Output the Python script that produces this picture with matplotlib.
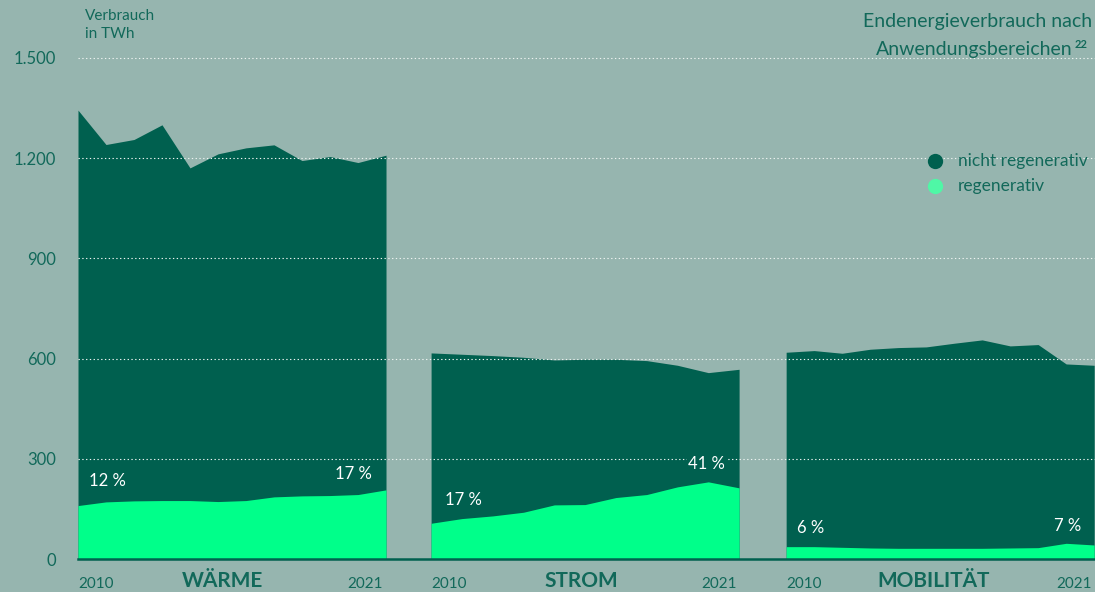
import matplotlib.pyplot as plt
from matplotlib.lines import Line2D
import numpy as np

# Endenergieverbrauch in TWh, 2010 bis 2021
waerme_gesamt = [1344, 1241, 1256, 1300, 1171, 1213, 1231, 1240, 1193, 1205, 1187, 1209]
waerme_regen = [160, 171, 174, 175, 175, 172, 175, 186, 189, 190, 193, 207]

strom_gesamt = [617, 613, 609, 604, 596, 598, 598, 594, 580, 558, 568]
strom_regen = [107, 121, 129, 140, 162, 163, 184, 193, 216, 231, 213]

mobil_gesamt = [619, 624, 616, 628, 633, 635, 646, 656, 638, 642, 584, 580]
mobil_regen = [37, 37, 35, 33, 32, 32, 32, 32, 33, 34, 47, 42]

bereiche = ['WÄRME', 'STROM', 'MOBILITÄT']
anteile = [('12 %', '17 %'), ('17 %', '41 %'), ('6 %', '7 %')]
y_ticks = [0, 300, 600, 900, 1200, 1500]
y_labels = ['0', '300', '600', '900', '1.200', '1.500']

BG = '#96b5af'
DUNKEL = '#00604f'
HELL = '#00ff8a'
TEXT = '#12695a'

plt.rcParams['font.family'] = ['Lato', 'DejaVu Sans']

fig = plt.figure(figsize=(10.95, 5.92), dpi=100, facecolor=BG)
ax = fig.add_axes([78 / 1095, 33 / 592, 1017 / 1095, 501 / 592])
ax.set_facecolor(BG)

# Startposition jeder Gruppe auf der x-Achse
starts = [0, 12.61, 25.29]
breite = 11
mitte = [5.15, 5.35, 5.25]
serien = [(waerme_gesamt, waerme_regen), (strom_gesamt, strom_regen), (mobil_gesamt, mobil_regen)]

# Lage der Prozentangaben: (x links, y links, x rechts, y rechts)
label_pos = [(0.4, 233, 10.5, 254), (0.5, 177, 10.5, 284), (0.4, 93, 10.55, 99)]

for i, (ges, reg) in enumerate(serien):
    x = np.linspace(starts[i], starts[i] + breite, len(ges))
    ax.fill_between(x, 0, ges, color=DUNKEL, lw=0, zorder=1)
    ax.fill_between(x, 0, reg, color=HELL, lw=0, zorder=2)

    # Prozentanteile regenerativ
    xl, yl, xr, yr = label_pos[i]
    links, rechts = anteile[i]
    ax.text(starts[i] + xl, yl, links, color='white', fontsize=12,
            ha='left', va='center', zorder=5,
            bbox=dict(facecolor=DUNKEL, edgecolor='none', pad=1))
    ax.text(starts[i] + xr, yr, rechts, color='white', fontsize=12,
            ha='right', va='center', zorder=5,
            bbox=dict(facecolor=DUNKEL, edgecolor='none', pad=1))

    # Jahre und Bereichsname unter der Achse
    ax.annotate('2010', (starts[i], 0), xycoords=('data', 'axes fraction'),
                xytext=(0, -18), textcoords='offset points', ha='left',
                va='center', fontsize=11, color=TEXT)
    ax.annotate('2021', (starts[i] + breite, 0), xycoords=('data', 'axes fraction'),
                xytext=(-2, -18), textcoords='offset points', ha='right',
                va='center', fontsize=11, color=TEXT)
    ax.annotate(bereiche[i], (starts[i] + mitte[i], 0),
                xycoords=('data', 'axes fraction'), xytext=(0, -16),
                textcoords='offset points', ha='center', va='center',
                fontsize=15, fontweight='bold', color=TEXT)

# gepunktete Hilfslinien
for yv in y_ticks[1:]:
    ax.axhline(yv, color='#edf3f1', lw=0.8, ls=(0, (1.2, 2.2)), zorder=3,
               clip_on=False)

ax.set_xlim(0, 36.32)
ax.set_ylim(0, 1500)
ax.set_xticks([])
ax.set_yticks(y_ticks)
ax.set_yticklabels(y_labels)
ax.tick_params(axis='y', length=0, pad=16, labelsize=12, labelcolor=TEXT)
for s in ['top', 'right', 'left']:
    ax.spines[s].set_visible(False)
ax.spines['bottom'].set_color(DUNKEL)
ax.spines['bottom'].set_linewidth(1.8)
ax.spines['bottom'].set_zorder(4)

fig.text(85 / 1095, 1 - 25 / 592, 'Verbrauch\nin TWh', ha='left', va='center',
         fontsize=11, color=TEXT, linespacing=1.3)

# Titel oben rechts
fig.text(1092 / 1095, 1 - 22 / 592, 'Endenergieverbrauch nach', ha='right',
         va='center', fontsize=14, color=TEXT)
fig.text(1073 / 1095, 1 - 49 / 592, 'Anwendungsbereichen', ha='right',
         va='center', fontsize=14, color=TEXT)
fig.text(1075 / 1095, 1 - 45 / 592, '22', ha='left', va='center',
         fontsize=8, fontweight='bold', color=TEXT)

# Legende
for yy, col, lab in [(161, DUNKEL, 'nicht regenerativ'), (186, '#4ff7a6', 'regenerativ')]:
    fig.add_artist(Line2D([935 / 1095], [1 - yy / 592], marker='o', ms=11,
                          color=col, mec='none', transform=fig.transFigure))
    fig.text(958 / 1095, 1 - yy / 592, lab, ha='left', va='center',
             fontsize=12.5, color=TEXT)

fig.savefig('out.png', dpi=100, facecolor=BG)
